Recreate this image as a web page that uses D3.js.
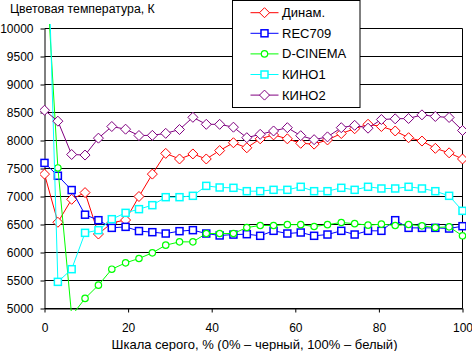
<!DOCTYPE html>
<html>
<head>
<meta charset="utf-8">
<script src="https://cdn.jsdelivr.net/npm/d3@7"></script>
<style>
  body { margin: 0; background: #fff; }
  text { font-family: "Liberation Sans", Arial, sans-serif; }
</style>
</head>
<body>
<div id="vis"></div>
<script>
var width = 472;
var height = 351;

// grey level, % (32 measured steps)
var grayScale = [0, 3.2, 6.5, 9.7, 12.9, 16.1, 19.4, 22.6, 25.8, 29.0, 32.3, 35.5, 38.7, 41.9, 45.2, 48.4,
                 51.6, 54.8, 58.1, 61.3, 64.5, 67.7, 71.0, 74.2, 77.4, 80.6, 83.9, 87.1, 90.3, 93.5, 96.8, 100];

var dinam = [7400, 6540, 6950, 7070, 6330, 6530, 6580, 7000, 7400, 7770, 7670, 7760, 7670, 7820, 7960, 7870,
             8030, 8100, 8030, 7950, 7935, 8010, 8125, 8210, 8290, 8250, 8170, 8050, 7990, 7860, 7780, 7670];
var rec709 = [7600, 7370, 7115, 6675, 6577, 6440, 6458, 6383, 6363, 6339, 6381, 6399, 6339, 6304, 6320, 6327,
              6298, 6387, 6339, 6357, 6298, 6321, 6387, 6321, 6387, 6387, 6577, 6440, 6440, 6440, 6428, 6470];
var dCinema = [11600, 7510, 4870, 5180, 5417, 5702, 5815, 5893, 5994, 6131, 6190, 6190, 6339, 6339, 6339, 6446,
               6482, 6482, 6497, 6497, 6464, 6497, 6536, 6515, 6488, 6506, 6482, 6500, 6476, 6446, 6458, 6298];
var kino1 = [13600, 5476, 5702, 6351, 6399, 6595, 6708, 6774, 6845, 6988, 6988, 7012, 7190, 7161, 7155, 7095,
             7095, 7119, 7119, 7173, 7095, 7095, 7155, 7119, 7173, 7143, 7143, 7173, 7143, 7095, 7012, 6744];
var kino2 = [8540, 8345, 7750, 7740, 8042, 8250, 8202, 8089, 8092, 8128, 8196, 8414, 8289, 8289, 8238, 8050,
             8110, 8170, 8229, 8086, 8015, 8065, 8229, 8271, 8220, 8375, 8387, 8393, 8458, 8429, 8411, 8179];

var seriesNames = ["Динам.", "REC709", "D-CINEMA", "КИНО1", "КИНО2"];
var seriesValues = [dinam, rec709, dCinema, kino1, kino2];
var seriesColors = ["#ff0000", "#0000ff", "#00ff00", "#00ffff", "#800080"];
var seriesMarkers = ["diamond", "square", "circle", "square", "diamond"];

var yTicks = [5000, 5500, 6000, 6500, 7000, 7500, 8000, 8500, 9000, 9500, 10000];
var xTicks = [0, 20, 40, 60, 80, 100];

var canvas = d3.select("#vis")
                .append("svg")
                .attr("width", width)
                .attr("height", height)
                .style("display", "block")
                .style("background-color", "#fff");

const x = d3.scaleLinear()
        .domain([0, 100])
        .range([44.5, 462.5]);

const y = d3.scaleLinear()
        .domain([5000, 10000])
        .range([308.5, 28.5]);

// horizontal grid
canvas.append("g")
        .selectAll("line")
        .data(yTicks)
        .enter()
        .append("line")
        .attr("x1", x(0))
        .attr("x2", x(100))
        .attr("y1", d => y(d))
        .attr("y2", d => y(d))
        .style("stroke", "#000")
        .style("stroke-width", 1);

// right border of plot
canvas.append("line")
        .attr("x1", x(100))
        .attr("x2", x(100))
        .attr("y1", y(10000))
        .attr("y2", y(5000))
        .style("stroke", "#000");

const yAxis = d3.axisLeft(y)
        .tickValues(yTicks)
        .tickSizeInner(4)
        .tickSizeOuter(0)
        .tickPadding(7)
        .tickFormat(d3.format("d"));

canvas.append("g")
        .attr("transform", `translate(${x(0)}, 0)`)
        .call(yAxis)
        .call(g => g.selectAll("text").style("font-size", "12px").style("fill", "#000"))
        .call(g => g.selectAll("line, path").style("stroke", "#000"));

const xAxis = d3.axisBottom(x)
        .tickValues(xTicks)
        .tickSizeInner(4)
        .tickSizeOuter(0)
        .tickPadding(11);

canvas.append("g")
        .attr("transform", `translate(0, ${y(5000)})`)
        .call(xAxis)
        .call(g => g.selectAll("text").style("font-size", "12px").style("fill", "#000"))
        .call(g => g.selectAll("line, path").style("stroke", "#000"));

canvas.append("text")
        .attr("x", 10)
        .attr("y", 12.5)
        .style("font-size", "12.3px")
        .text("Цветовая температура, К");

canvas.append("text")
        .attr("x", 254.5)
        .attr("y", 349)
        .attr("text-anchor", "middle")
        .style("font-size", "13px")
        .text("Шкала серого, % (0% – черный, 100% – белый)");

const defs = canvas.append("defs");
defs.append("clipPath")
        .attr("id", "plot-clip")
        .append("rect")
        .attr("x", 40)
        .attr("y", 24)
        .attr("width", 426)
        .attr("height", 287);

function drawMarker(g, type, color) {
  if (type == "diamond") {
    g.append("path")
      .attr("d", "M0,-5L5,0L0,5L-5,0Z")
      .style("fill", "#fff")
      .style("stroke", color)
      .style("stroke-width", 1);
  } else if (type == "square") {
    g.append("rect")
      .attr("x", -3.5)
      .attr("y", -3.5)
      .attr("width", 7)
      .attr("height", 7)
      .style("fill", "#fff")
      .style("stroke", color)
      .style("stroke-width", 1.5);
  } else {
    g.append("circle")
      .attr("r", 3.2)
      .style("fill", "#fff")
      .style("stroke", color)
      .style("stroke-width", 1.2);
  }
}

var plot = canvas.append("g")
        .attr("clip-path", "url(#plot-clip)");

var line = d3.line()
        .x((d, i) => x(grayScale[i]))
        .y(d => y(d));

seriesValues.forEach(function (values, s) {
  var g = plot.append("g");
  g.append("path")
    .attr("d", line(values))
    .style("fill", "none")
    .style("stroke", seriesColors[s])
    .style("stroke-width", 1);
  values.forEach(function (v, i) {
    var m = g.append("g")
      .attr("transform", `translate(${x(grayScale[i])}, ${y(v)})`);
    drawMarker(m, seriesMarkers[s], seriesColors[s]);
  });
});

// legend
var legend = canvas.append("g")
        .attr("class", "legend");

legend.append("rect")
        .attr("x", 232.5)
        .attr("y", 0.5)
        .attr("width", 127.5)
        .attr("height", 107)
        .style("fill", "#fff")
        .style("stroke", "#000");

seriesNames.forEach(function (name, s) {
  var rowY = 12.7 + s * 20.6;
  legend.append("line")
    .attr("x1", 250.5)
    .attr("x2", 278.5)
    .attr("y1", rowY)
    .attr("y2", rowY)
    .style("stroke", seriesColors[s]);
  var m = legend.append("g")
    .attr("transform", `translate(264.5, ${rowY})`);
  drawMarker(m, seriesMarkers[s], seriesColors[s]);
  legend.append("text")
    .attr("x", 282)
    .attr("y", rowY)
    .attr("dy", "0.35em")
    .style("font-size", "13px")
    .text(name);
});
</script>
</body>
</html>
